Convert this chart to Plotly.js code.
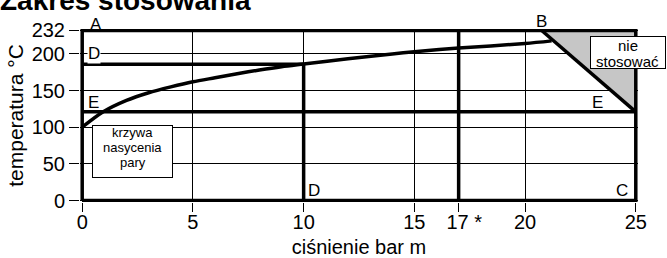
<!DOCTYPE html>
<html>
<head>
<meta charset="utf-8">
<script src="https://cdn.plot.ly/plotly-3.0.1.min.js"></script>
<style>
  html, body { margin: 0; padding: 0; background: #fff; }
  #chart { width: 667px; height: 258px; }
</style>
</head>
<body>
<div id="chart"></div>
<script>
// ---- data ----
const pressure = [0, 0.95, 2, 3, 4, 5, 6, 7, 8, 9, 10, 12, 14, 15, 17, 20, 21.2];                 // bar m
const satTemp  = [100, 121, 136.5, 147, 155, 162, 167.5, 173, 178, 182.5, 186.2, 193.5, 200, 203, 208, 214.2, 217.8]; // °C

const pMax = 25;        // C, right limit
const tMax = 232;       // A-B, top limit
const tD = 186;         // D line
const tE = 121;         // E line
const pD = 10;          // D vertical
const pStar = 17;       // 17* vertical
const pB = 20.75;       // B corner

const xTickVals = [0, 5, 10, 15, 17, 20, 25];
const xTickText = ['0', '5', '10', '15', '\u00a0\u00a017 *', '20', '25'];
const yTickVals = [0, 50, 100, 150, 200, 232];
const yTickText = ['0', '50', '100', '150', '200', '232'];

const curveNote = ['krzywa', 'nasycenia', 'pary'];
const noUseNote = ['nie', 'stosować'];

const FONT = 'Liberation Sans, Arial, Helvetica, sans-serif';
const thick = {color: '#000', width: 3.5};

function seg(x, y, extra) {
  return Object.assign({type: 'scatter', mode: 'lines', x: x, y: y, line: thick, hoverinfo: 'skip'}, extra || {});
}

const traces = [
  // not-to-use triangle
  seg([pB, pMax, pMax, pB], [tMax, tMax, tE, tMax],
      {fill: 'toself', fillcolor: '#c6c6c6', line: {width: 0, color: 'rgba(0,0,0,0)'}}),
  // frame A-B-C-0
  seg([0, pMax, pMax, 0, 0], [0, 0, tMax, tMax, 0]),
  // E line
  seg([0, pMax], [tE, tE]),
  // D lines
  seg([0, pD], [tD, tD]),
  seg([pD, pD], [0, tD]),
  // 17* vertical
  seg([pStar, pStar], [0, tMax]),
  // B-E diagonal
  seg([pB, pMax], [tMax, tE]),
  // saturation curve
  seg(pressure, satTemp, {line: {color: '#000', width: 3.5, shape: 'spline', smoothing: 0.8}})
];

function lab(text, x, y, extra) {
  return Object.assign({text: text, x: x, y: y, xref: 'x', yref: 'y', showarrow: false,
    font: {family: FONT, size: 17, color: '#000'}}, extra || {});
}
function box(x, y, w, h) {
  return lab('\u00a0', x, y, {bgcolor: '#fff', bordercolor: '#000', borderwidth: 1, borderpad: 1,
    width: w, height: h, font: {family: FONT, size: 10, color: '#000'}});
}
function note(text, x, y, size) {
  return lab(text, x, y, {font: {family: FONT, size: size, color: '#000'}, borderpad: 0});
}

const annotations = [
  lab('A', 0.62, tMax, {yshift: 6}),
  lab('B', 20.73, tMax, {yshift: 9}),
  lab('D', 0.51, 200.5, {bgcolor: '#fff', borderpad: 0}),
  lab('E', 0.49, 134.4),
  lab('D', 10.49, 13.6),
  lab('C', 24.36, 13.6),
  lab('E', 23.25, 134.4),
  box(2.29, 67.1, 77, 49),
  note(curveNote[0], 2.29, 92.8, 13),
  note(curveNote[1], 2.29, 72.3, 13),
  note(curveNote[2], 2.29, 51.9, 13),
  box(24.65, 201.6, 72, 29),
  note(noUseNote[0], 24.63, 211.4, 15),
  note(noUseNote[1], 24.63, 189.5, 15)
];

const axisCommon = {
  showgrid: true, gridcolor: '#000', gridwidth: 1,
  zeroline: false, showline: false,
  ticks: 'outside', ticklen: 9, tickcolor: '#000', tickwidth: 1,
  tickfont: {family: FONT, size: 20, color: '#000'},
  tickmode: 'array', fixedrange: true
};

const layout = {
  width: 667, height: 258,
  margin: {l: 80, r: 29, t: 29, b: 56, pad: 0},
  paper_bgcolor: '#fff', plot_bgcolor: '#fff',
  showlegend: false,
  font: {family: FONT, color: '#000'},
  title: {text: '<b>Zakres stosowania</b>', font: {family: FONT, size: 28, color: '#000'},
          x: 0, xref: 'container', xanchor: 'left', y: 0.998, yref: 'container', yanchor: 'middle'},
  xaxis: Object.assign({}, axisCommon, {
    range: [-0.1, 25.1], tickvals: xTickVals, ticktext: xTickText, ticklabelstandoff: -7,
    title: {text: 'ciśnienie bar m', font: {family: FONT, size: 20, color: '#000'}, standoff: 20}
  }),
  yaxis: Object.assign({}, axisCommon, {
    range: [-2, 234], tickvals: yTickVals, ticktext: yTickText, ticklen: 10,
    title: {text: 'temperatura °C\u00a0\u00a0\u00a0\u00a0\u00a0', font: {family: FONT, size: 21, color: '#000'}, standoff: 2}
  }),
  annotations: annotations
};

Plotly.newPlot('chart', traces, layout, {displayModeBar: false, staticPlot: true});
</script>
</body>
</html>
